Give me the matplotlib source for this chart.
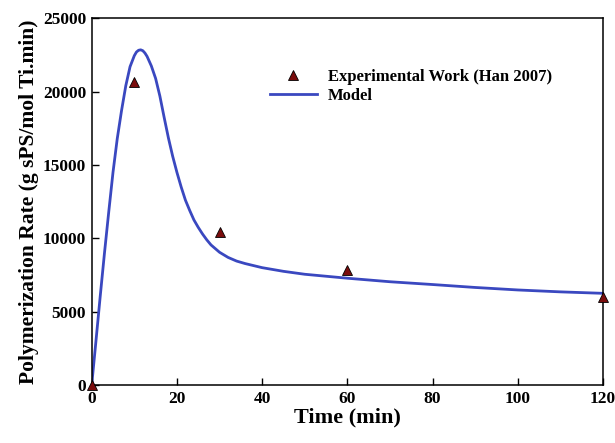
import matplotlib
matplotlib.use("Agg")
import matplotlib.pyplot as plt

# experimental points (Han 2007)
t_exp = [0, 10, 30, 60, 120]
r_exp = [0, 20680, 10450, 7840, 6020]

# model curve
t_mod = [0, 1, 2, 3, 4, 5, 6, 7, 8, 9, 10, 10.5, 11, 11.5, 12, 12.5, 13, 14, 15, 16, 17,
         18, 19, 20, 21, 22, 23, 24, 25, 26, 27, 28, 30, 32, 34, 36, 40, 45, 50, 60, 70,
         80, 90, 100, 110, 120]
r_mod = [0, 3000, 6050, 9000, 11800, 14500, 16800, 18700, 20400, 21700, 22450, 22700,
         22820, 22850, 22790, 22630, 22400, 21750, 20900, 19700, 18250, 16850, 15600,
         14500, 13500, 12600, 11900, 11250, 10750, 10300, 9900, 9550, 9050, 8700, 8450,
         8280, 8000, 7750, 7550, 7280, 7040, 6850, 6650, 6480, 6350, 6250]

plt.rcParams["font.family"] = ["Liberation Serif", "DejaVu Serif"]
plt.rcParams["font.weight"] = "bold"

fig = plt.figure(figsize=(6.15, 4.43), dpi=100)
ax = fig.add_axes([0.1491, 0.1309, 0.8314, 0.8278])

ax.plot(t_mod, r_mod, color="#3a48c0", lw=2, label="Model", zorder=2)
ax.plot(t_exp, r_exp, linestyle="none", marker="^", markersize=7, color="#7a0c0c",
        markeredgecolor="black", markeredgewidth=0.6, label="Experimental Work (Han 2007)",
        zorder=3, clip_on=False)

ax.set_xlim(0, 120)
ax.set_ylim(0, 25000)
ax.set_xticks([0, 20, 40, 60, 80, 100, 120])
ax.set_yticks([0, 5000, 10000, 15000, 20000, 25000])
ax.tick_params(direction="in", length=5, width=1, labelsize=12.5, top=False, right=False, pad=4)
for lbl in ax.get_xticklabels() + ax.get_yticklabels():
    lbl.set_fontweight("bold")
for sp in ax.spines.values():
    sp.set_linewidth(1.1)

ax.set_xlabel("Time (min)", fontsize=16, fontweight="bold", labelpad=1)
ax.set_ylabel("Polymerization Rate (g sPS/mol Ti.min)", fontsize=15.5, fontweight="bold", labelpad=3)

handles, labels = ax.get_legend_handles_labels()
ax.legend(handles[::-1], labels[::-1], loc="upper left", bbox_to_anchor=(0.349, 0.862),
          frameon=False, fontsize=12, handlelength=2.8, handletextpad=0.65,
          labelspacing=0.2, borderpad=0, borderaxespad=0)

fig.savefig("out.png", dpi=100)
